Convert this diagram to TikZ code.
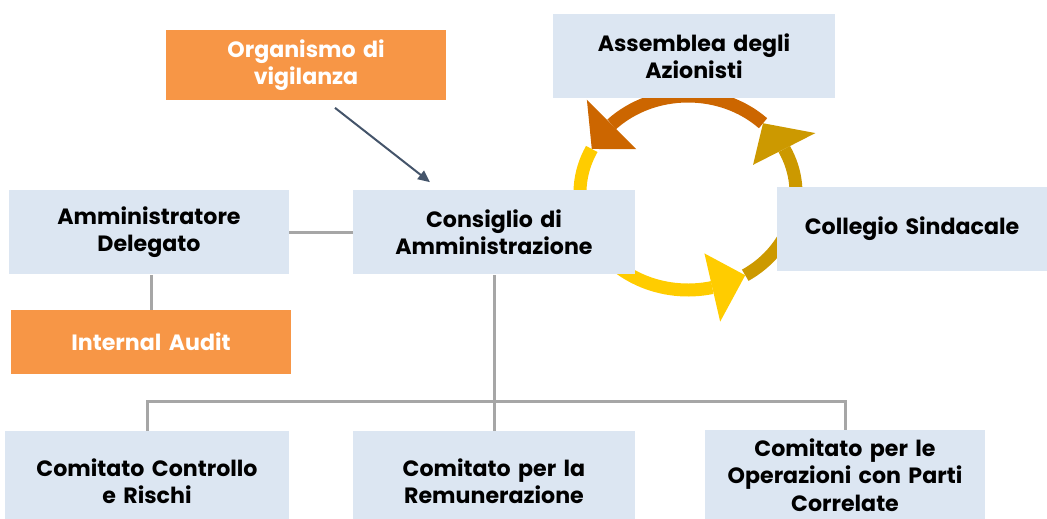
\documentclass[tikz,border=0pt]{standalone}
\usepackage{fontspec}
\setmainfont{Poppins}
\usetikzlibrary{calc,arrows.meta,backgrounds}

\definecolor{boxblue}{HTML}{DCE6F2}
\definecolor{boxorange}{HTML}{F79646}
\definecolor{linegray}{HTML}{A6A6A6}
\definecolor{arrowslate}{HTML}{44546A}
\definecolor{ringyellow}{HTML}{FFCC00}
\definecolor{ringgold}{HTML}{CC9900}
\definecolor{ringorange}{HTML}{CC6600}

\tikzset{
  box/.style={fill=boxblue, minimum width=5.62cm, minimum height=1.7cm,
    text width=5.4cm, align=center, inner sep=0pt,
    font=\bfseries\fontsize{12.6}{15.6}\selectfont},
  orangebox/.style={box, fill=boxorange, text=white},
  link/.style={draw=linegray, line width=0.06cm},
  ring/.style={line width=0.26cm},
}

\begin{document}
\begin{tikzpicture}[x=0.02cm,y=0.02cm]

            \useasboundingbox (0,0) rectangle (1047,-518);

            % boxes
            \node[orangebox, minimum height=1.42cm] (org) at (306,-65) {Organismo di\\vigilanza};
            \node[box, minimum width=5.64cm] (assem) at (694,-56) {Assemblea degli\\Azionisti};
            \node[box, minimum width=5.6cm] (ad) at (149,-232) {Amministratore\\Delegato};
            \node[box, minimum width=5.64cm] (cda) at (494,-232) {Consiglio di\\Amministrazione};
            \node[box, minimum width=5.32cm] (coll) at (912,-229) {Collegio Sindacale};
            \node[orangebox, minimum height=1.28cm] (ia) at (151,-342) {Internal Audit};
            \node[box, minimum width=5.68cm, minimum height=2cm] (ccr) at (147,-481) {Comitato Controllo\\e Rischi};
            \node[box, minimum width=5.64cm, minimum height=2cm] (crem) at (494,-481) {Comitato per la\\Remunerazione};
            \node[box, minimum width=5.6cm, minimum height=1.8cm] (cpc) at (845,-475) {Comitato per le\\Operazioni con Parti\\Correlate};

            \coordinate (bus) at (494,-401);
            \coordinate (c) at (688,-193);

            % connectors
            \draw[link] (ad) -- (cda);
            \draw[link] (ad.south -| ia.north) -- (ia.north);
            \draw[link] (cda.south) -- (crem.north);
            \draw[link] (ccr.north) |- (bus) -| (cpc.north);
            \draw[arrowslate, line width=0.04cm, -{Triangle[length=6.8pt,width=6pt]}]
                ($(org.south)+(29,-7)$) -- ($(cda.north)+(-64,7)$);

            % cycle behind the boxes
            \begin{scope}[on background layer, shift={(c)}]
                \foreach \col/\a/\b in {ringyellow/153/283, ringgold/302/387, ringorange/46/135}
                    \draw[ring, \col] (\a:108 and 97) arc[start angle=\a, end angle=\b, x radius=108, y radius=97];
                \foreach \col/\b/\t in {ringyellow/283/302, ringgold/387/406, ringorange/135/153}
                    \fill[\col] (\b:73 and 62) -- (\t:108 and 97) -- (\b:143 and 132) -- cycle;
            \end{scope}
        \end{tikzpicture}
\end{document}
